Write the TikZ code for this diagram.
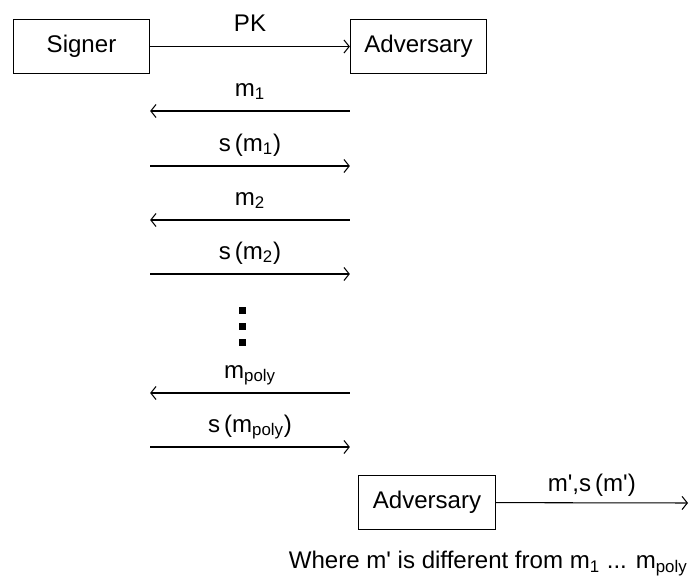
\documentclass[tikz,border=0pt]{standalone}
\usepackage{fontspec}
\setmainfont{Liberation Sans}
\usetikzlibrary{arrows.meta}

\newcommand{\q}{\textquotesingle}

\begin{document}
\begin{tikzpicture}[x=0.02cm, y=-0.02cm,
    every node/.style={font=\fontsize{13.7}{16}\selectfont},
    party/.style={draw, line width=0.6pt, minimum width=77.5pt, minimum height=30.5pt, inner sep=0pt},
    msg/.style={line width=0.6pt, -{Straight Barb[length=3pt, width=7.5pt]}},
    lbl/.style={pos=0.5, anchor=base, yshift=8.5pt, inner sep=0pt}]

        % frame of the page
        \useasboundingbox (0,0) rectangle (690,580);

        % Parties
        \node[party] (signer) at (81.5,46.5) {Signer};
        \node[party] (adv) at (418.5,46.5) {Adversary};
        \node[party] (forger) at (427,502.5) {Adversary};

        % Public key
        \draw[msg] (signer) -- node[lbl] (pk) {PK} (adv);

        % Queries and signatures
        \draw[msg] (adv.west |- 0,111) -- node[lbl] (m1) {m\textsubscript{1}} (signer.east |- 0,111);
        \draw[msg] (signer.east |- 0,166) -- node[lbl] (sm1) {s\,(m\textsubscript{1})} (adv.west |- 0,166);
        \draw[msg] (adv.west |- 0,220) -- node[lbl] (m2) {m\textsubscript{2}} (signer.east |- 0,220);
        \draw[msg] (signer.east |- 0,274) -- node[lbl] (sm2) {s\,(m\textsubscript{2})} (adv.west |- 0,274);

        % Dots
        \fill (238.5,307.5) rectangle ++(7,7);
        \fill (238.5,323.5) rectangle ++(7,7);
        \fill (238.5,339.5) rectangle ++(7,7);

        \draw[msg] (adv.west |- 0,393) -- node[lbl] (mp) {m\textsubscript{poly}} (signer.east |- 0,393);
        \draw[msg] (signer.east |- 0,447) -- node[lbl] (smp) {s\,(m\textsubscript{poly})} (adv.west |- 0,447);

        % Forgery
        \coordinate (out) at (688,503);
        \draw[msg] (forger) -- node[lbl, yshift=-2pt] (fm) {m\q,s\,(m\q)} (out);

        % Note
        \node[anchor=base east, inner sep=0pt] (note) at (688,569)
            {Where m\q{} is different from m\textsubscript{1} ... m\textsubscript{poly}};

    \end{tikzpicture}
\end{document}
